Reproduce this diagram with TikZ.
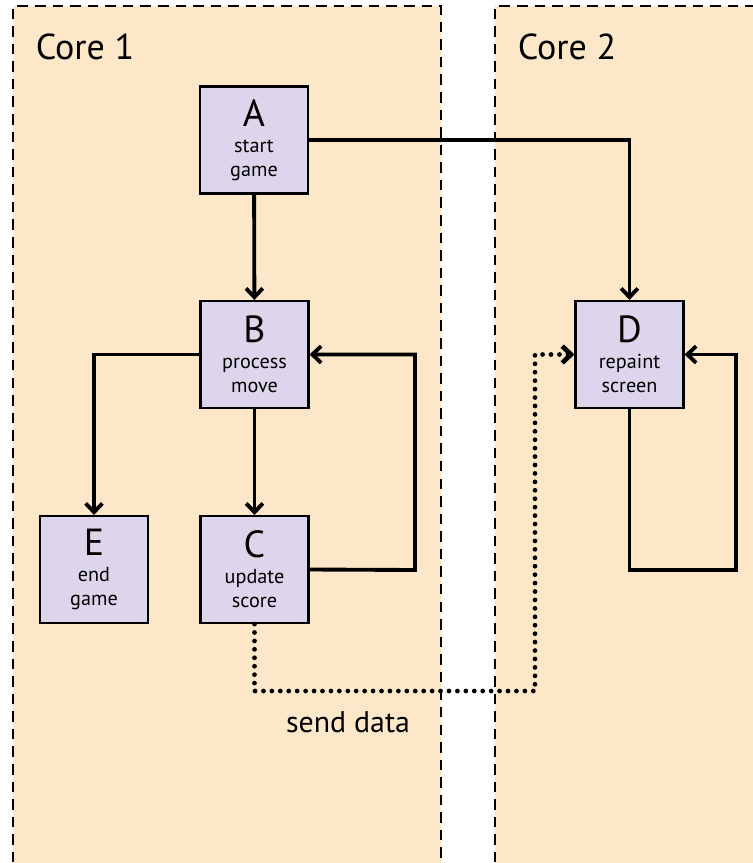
\documentclass[tikz,border=0pt]{standalone}
\usepackage{fontspec}
\setmainfont{PT Sans}
\usepackage{tikz}
\usetikzlibrary{arrows.meta,positioning}
\definecolor{corepeach}{HTML}{FDE7C9}
\definecolor{tasklilac}{HTML}{DCD5EC}
\newcommand{\taskname}[1]{{\fontsize{21.5}{21.5}\selectfont #1}\\[1pt]}

\begin{document}
\begin{tikzpicture}[x=0.02cm, y=-0.02cm,
	corebox/.style={fill=corepeach},
	coreedge/.style={line width=1.3pt, dash pattern=on 6pt off 4pt},
	task/.style={draw, fill=tasklilac, line width=1.2pt, minimum width=2.16cm,
		minimum height=2.14cm, inner sep=0pt, align=center,
		font=\fontsize{11.5}{13.8}\selectfont},
	arr/.style={-{Straight Barb[length=5pt, width=9.5pt]}, line width=2.2pt},
	sendarr/.style={-{Straight Barb[length=5pt, width=9.5pt]}, line width=2.7pt,
		line cap=round, dash pattern=on 0pt off 4.8pt},
	corelabel/.style={font=\fontsize{20.5}{20.5}\selectfont}
]
	\clip (0,0) rectangle (753,863);
	\fill[corebox] (13,6) rectangle (441,880);
	\fill[corebox] (495,6) rectangle (770,880);
	\draw[coreedge] (13,880) -- (13,6) -- (441,6) -- (441,880);
	\draw[coreedge] (495,880) -- (495,6) -- (770,6);
	\node[corelabel] (core1) at (85,47) {Core 1};
	\node[corelabel] (core2) at (567,47) {Core 2};

	\node[task] (a) at (254,140) {\taskname{A}start\\game};
	\node[task] (b) at (254.5,354.5) {\taskname{B}process\\move};
	\node[task] (c) at (254.5,569.5) {\taskname{C}update\\score};
	\node[task] (d) at (629.5,354.5) {\taskname{D}repaint\\screen};
	\node[task] (e) at (94,569.5) {\taskname{E}end\\game};

	\coordinate (cloop) at (415,570);
	\coordinate (dloop) at (736,570);
	\coordinate (sendturn) at (535,691);

	\draw[arr] (a) -- (b);
	\draw[arr] (b) -- (c);
	\draw[arr] (a.east) -| (d.north);
	\draw[arr] (b.west) -| (e.north);
	\draw[arr] (c.east) -- (cloop) |- (b.east);
	\draw[arr] (d.south) |- (dloop) |- (d.east);
	\draw[sendarr] (c.south) |- (sendturn) |- (d.west);
	\node[font=\fontsize{17}{17}\selectfont] (send) at (348,722) {send data};
\end{tikzpicture}
\end{document}
